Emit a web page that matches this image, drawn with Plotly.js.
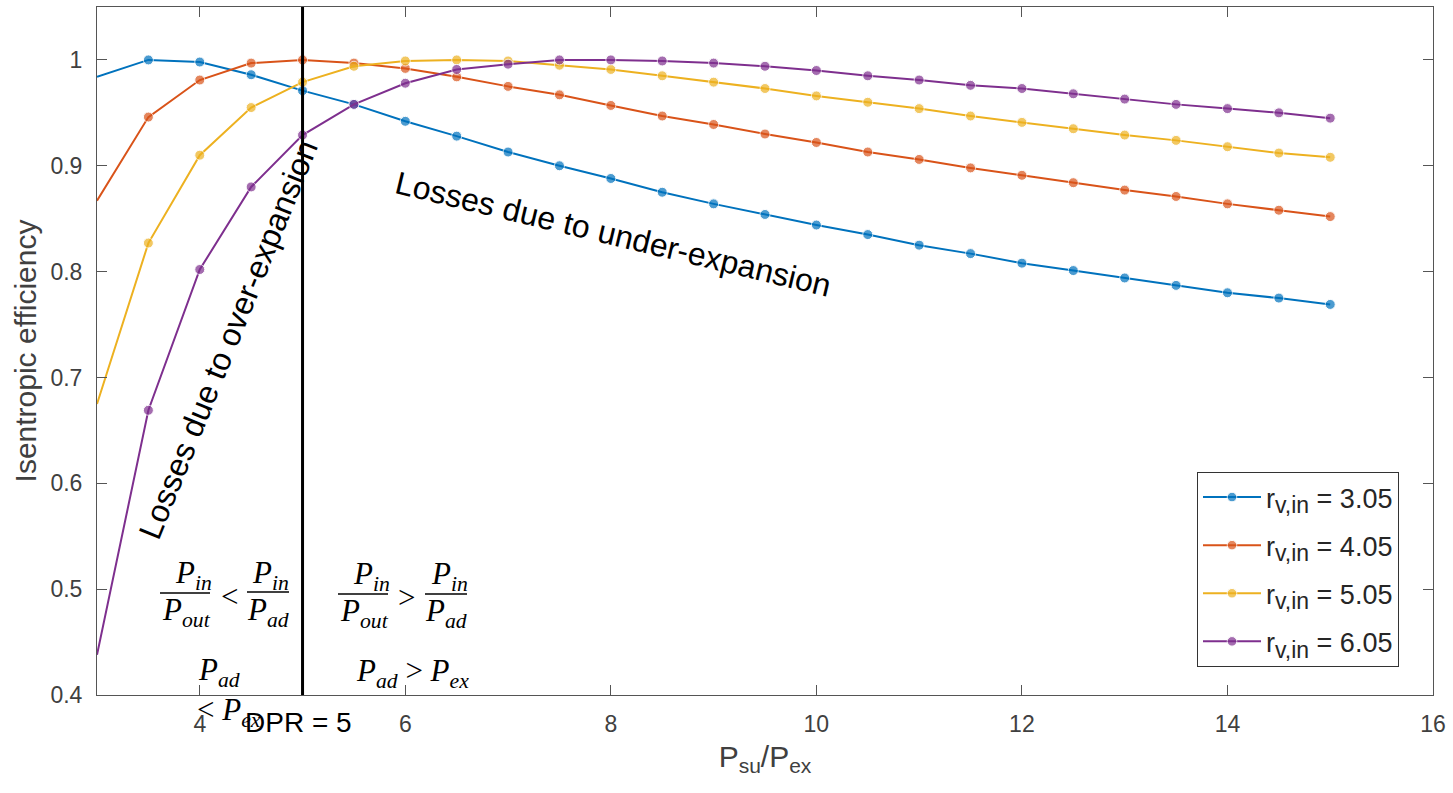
<!DOCTYPE html>
<html>
<head>
<meta charset="utf-8">
<script src="https://cdn.plot.ly/plotly-3.0.1.min.js"></script>
<style>html,body{margin:0;padding:0;background:#fff;}</style>
</head>
<body>
<div id="chart" style="width:1453px;height:793px;"></div>
<script>
// ---- data ----
const pressureRatio = [3,3.5,4,4.5,5,5.5,6,6.5,7,7.5,8,8.5,9,9.5,10,10.5,11,11.5,12,12.5,13,13.5,14,14.5,15];
const eff305 = [0.984,1.000,0.998,0.986,0.971,0.958,0.942,0.928,0.913,0.900,0.888,0.875,0.864,0.854,0.844,0.835,0.825,0.817,0.808,0.801,0.794,0.787,0.780,0.775,0.769];
const eff405 = [0.867,0.946,0.981,0.997,1.000,0.997,0.992,0.984,0.975,0.967,0.957,0.947,0.939,0.930,0.922,0.913,0.906,0.898,0.891,0.884,0.877,0.871,0.864,0.858,0.852];
const eff505 = [0.675,0.827,0.910,0.955,0.979,0.994,0.999,1.000,0.999,0.995,0.991,0.985,0.979,0.973,0.966,0.960,0.954,0.947,0.941,0.935,0.929,0.924,0.918,0.912,0.908];
const eff605 = [0.438,0.669,0.802,0.880,0.929,0.958,0.978,0.991,0.996,1.000,1.000,0.999,0.997,0.994,0.990,0.985,0.981,0.976,0.973,0.968,0.963,0.958,0.954,0.950,0.945];
const rvinLabels = ['3.05','4.05','5.05','6.05'];
const seriesValues = [eff305, eff405, eff505, eff605];
const dpr = 5;
const xTickVals = [4,6,8,10,12,14,16];
const yTickVals = [0.4,0.5,0.6,0.7,0.8,0.9,1];
const yTickText = ['0.4','0.5','0.6','0.7','0.8','0.9','1'];

// ---- style ----
const colors = ['#0072BD','#D95319','#EDB120','#7E2F8E'];
const sans = 'Liberation Sans, Arial, sans-serif';
const serif = 'Liberation Serif, DejaVu Serif, serif';
const axisColor = '#555555';
const tickColor = '#404040';

const traces = seriesValues.map((vals, i) => ({
  x: pressureRatio,
  y: vals,
  type: 'scatter',
  mode: 'lines+markers',
  name: 'r<sub><span style="font-size:23px">v,in</span></sub> = ' + rvinLabels[i],
  legendgroup: 'g' + i,
  line: {color: colors[i], width: 2},
  marker: {color: colors[i], size: pressureRatio.map(x => x <= 3 ? 0 : 10)}
}));

// pixel helpers for annotation placement (plot area: x 97..1433, y 7..695)
const L = 97, R = 1433, T = 7, B = 695;
const px = p => (p - L) / (R - L);
const py = p => (B - p) / (B - T);

const mathFont = {family: serif, size: 31, color: '#000'};
const P = s => '<i>P</i><sub><i>' + s + '</i></sub>';
function ann(x, y, text, font, extra) {
  return Object.assign({xref:'paper', yref:'paper', x: px(x), y: py(y), text: text,
    showarrow:false, font: font, xanchor:'center', yanchor:'middle'}, extra || {});
}
const annotations = [
  ann(228, 340, 'Losses due to over-expansion', {family: sans, size: 32, color:'#000'}, {textangle:-68}),
  ann(613, 234, 'Losses due to under-expansion', {family: sans, size: 32, color:'#000'}, {textangle:13.5}),
  // left fractions
  ann(193, 575, P('in'), mathFont), ann(186, 612, P('out'), mathFont),
  ann(229, 596, '&lt;', mathFont),
  ann(270, 575, P('in'), mathFont), ann(268, 612, P('ad'), mathFont),
  // right fractions
  ann(371, 576, P('in'), mathFont), ann(364, 613, P('out'), mathFont),
  ann(406, 597, '&gt;', mathFont),
  ann(449, 576, P('in'), mathFont), ann(446, 613, P('ad'), mathFont),
  // pressure relations
  ann(219, 672, P('ad'), mathFont),
  ann(229, 712, '&lt; ' + P('ex'), mathFont),
  ann(412, 673, P('ad') + ' &gt; ' + P('ex'), mathFont),
  ann(298, 722, 'DPR = 5', {family: sans, size: 28, color:'#000'})
];

function bar(x0, x1, y) {
  return {type:'line', xref:'paper', yref:'paper', x0: px(x0), x1: px(x1), y0: py(y), y1: py(y),
    line:{color:'#000', width:1.5}};
}
const shapes = [
  {type:'line', xref:'x', yref:'paper', x0: dpr, x1: dpr, y0: 0, y1: 1, line:{color:'#000', width:3}},
  bar(160, 210, 593), bar(247, 289, 592), bar(338, 388, 594), bar(425, 467, 594)
];

const layout = {
  width: 1453, height: 793,
  margin: {l: L, r: 1453 - R, t: T, b: 793 - B},
  paper_bgcolor: '#fff', plot_bgcolor: '#fff',
  font: {family: sans, color: tickColor},
  showlegend: true,
  xaxis: {
    range: [3, 16], tickvals: xTickVals, ticks: 'inside', ticklen: 10, tickcolor: axisColor,
    showline: true, linecolor: axisColor, linewidth: 1, mirror: 'allticks', showgrid: false, zeroline: false,
    tickfont: {family: sans, size: 23, color: tickColor}, ticklabelstandoff: 8,
    title: {text: 'P<sub>su</sub>/P<sub>ex</sub>', font: {family: sans, size: 30, color: tickColor}, standoff: 10}
  },
  yaxis: {
    range: [0.4, 1.05], tickvals: yTickVals, ticktext: yTickText, ticks: 'inside', ticklen: 10, tickcolor: axisColor,
    showline: true, linecolor: axisColor, linewidth: 1, mirror: 'allticks', showgrid: false, zeroline: false,
    tickfont: {family: sans, size: 23, color: tickColor}, ticklabelstandoff: 9,
    title: {text: 'Isentropic efficiency', font: {family: sans, size: 30, color: tickColor}, standoff: 4}
  },
  legend: {
    x: px(1197), y: py(472), xanchor: 'left', yanchor: 'top',
    bgcolor: '#fff', bordercolor: '#333', borderwidth: 1, tracegroupgap: 10,
    font: {family: sans, size: 27, color: '#262626'}, itemwidth: 58
  },
  annotations: annotations,
  shapes: shapes
};

Plotly.newPlot('chart', traces, layout, {displayModeBar: false, staticPlot: true});
</script>
</body>
</html>
